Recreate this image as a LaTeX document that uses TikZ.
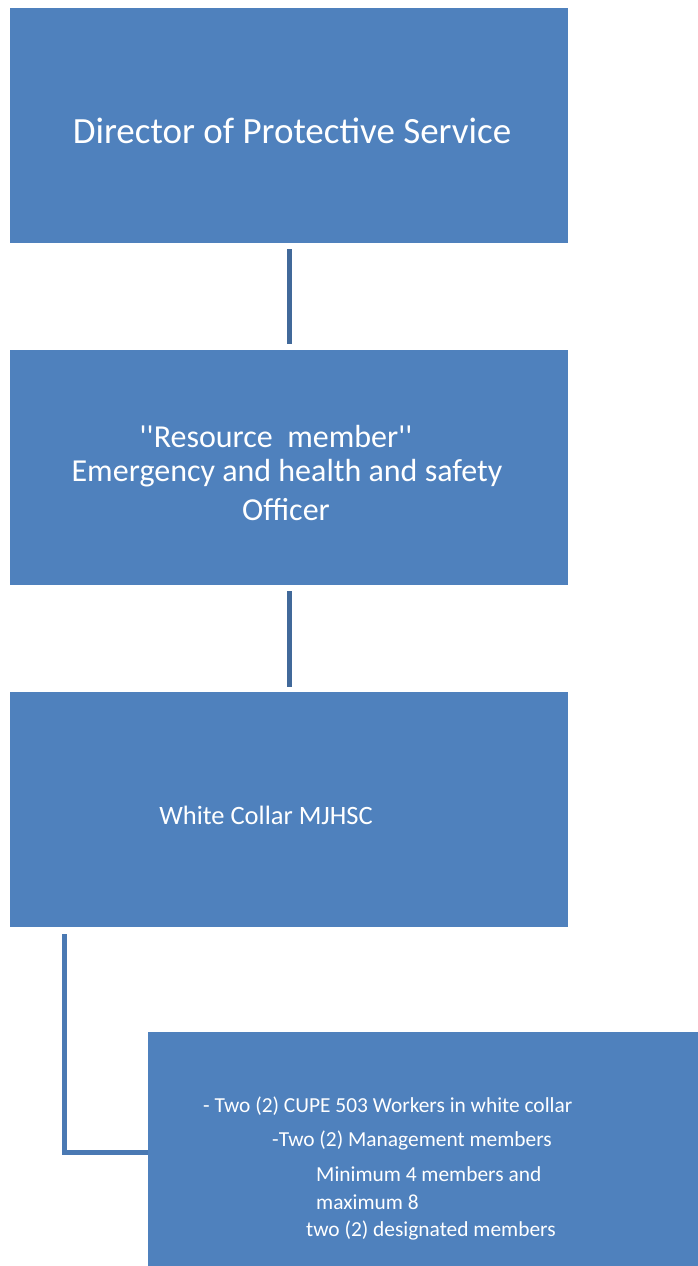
\documentclass[tikz,border=0pt]{standalone}
\usepackage{fontspec}
\setmainfont{Carlito}[Ligatures=TeXOff]
\definecolor{boxblue}{HTML}{4F81BD}
\definecolor{linkblue}{HTML}{41699A}
\definecolor{elbowblue}{HTML}{4A79B3}
\begin{document}
\begin{tikzpicture}[x=1pt,y=-1pt,
  orgbox/.style={fill=boxblue, draw=none},
  boxtext/.style={text=white, inner sep=0pt},
  link/.style={draw=linkblue, line width=5pt},
  elbow/.style={draw=elbowblue, line width=5pt}]
\useasboundingbox (0,0) rectangle (698,1266);
\fill[orgbox] (10,8) rectangle (568,243);
\fill[orgbox] (10,350) rectangle (568,585);
\fill[orgbox] (10,692) rectangle (568,927);
\fill[orgbox] (148,1032) rectangle (698,1266);
\node[boxtext, font=\fontsize{37}{44}\selectfont] (t1) at (292,131) {Director of Protective Service};
\node[boxtext, font=\fontsize{32}{37}\selectfont] (t2a) at (276,437) {''Resource\ \ member''};
\node[boxtext, font=\fontsize{32}{37}\selectfont] (t2b) at (287,473) {Emergency and health and safety};
\node[boxtext, font=\fontsize{32}{37}\selectfont] (t2c) at (286,510) {Officer};
\node[boxtext, font=\fontsize{26.5}{30}\selectfont] (t3) at (266,815) {White Collar MJHSC};
\node[boxtext, font=\fontsize{21.4}{24}\selectfont, anchor=west] (l1) at (203,1106) {- Two (2) CUPE 503 Workers in white collar};
\node[boxtext, font=\fontsize{21.4}{24}\selectfont, anchor=west] (l2) at (272,1140) {-Two (2) Management members};
\node[boxtext, font=\fontsize{21.4}{24}\selectfont, anchor=west] (l3) at (316,1174) {Minimum 4 members and};
\node[boxtext, font=\fontsize{21.4}{24}\selectfont, anchor=west] (l4) at (316,1202) {maximum 8};
\node[boxtext, font=\fontsize{21.4}{24}\selectfont, anchor=west] (l5) at (306,1230) {two (2) designated members};
\coordinate (a1) at (289,249);
\coordinate (a2) at (289,344);
\coordinate (b1) at (289,591);
\coordinate (b2) at (289,687);
\coordinate (c1) at (64,934);
\coordinate (c2) at (148,1152);
\draw[link] (a1) -- (a2);
\draw[link] (b1) -- (b2);
\draw[elbow] (c1) |- (c2);
\end{tikzpicture}
\end{document}
